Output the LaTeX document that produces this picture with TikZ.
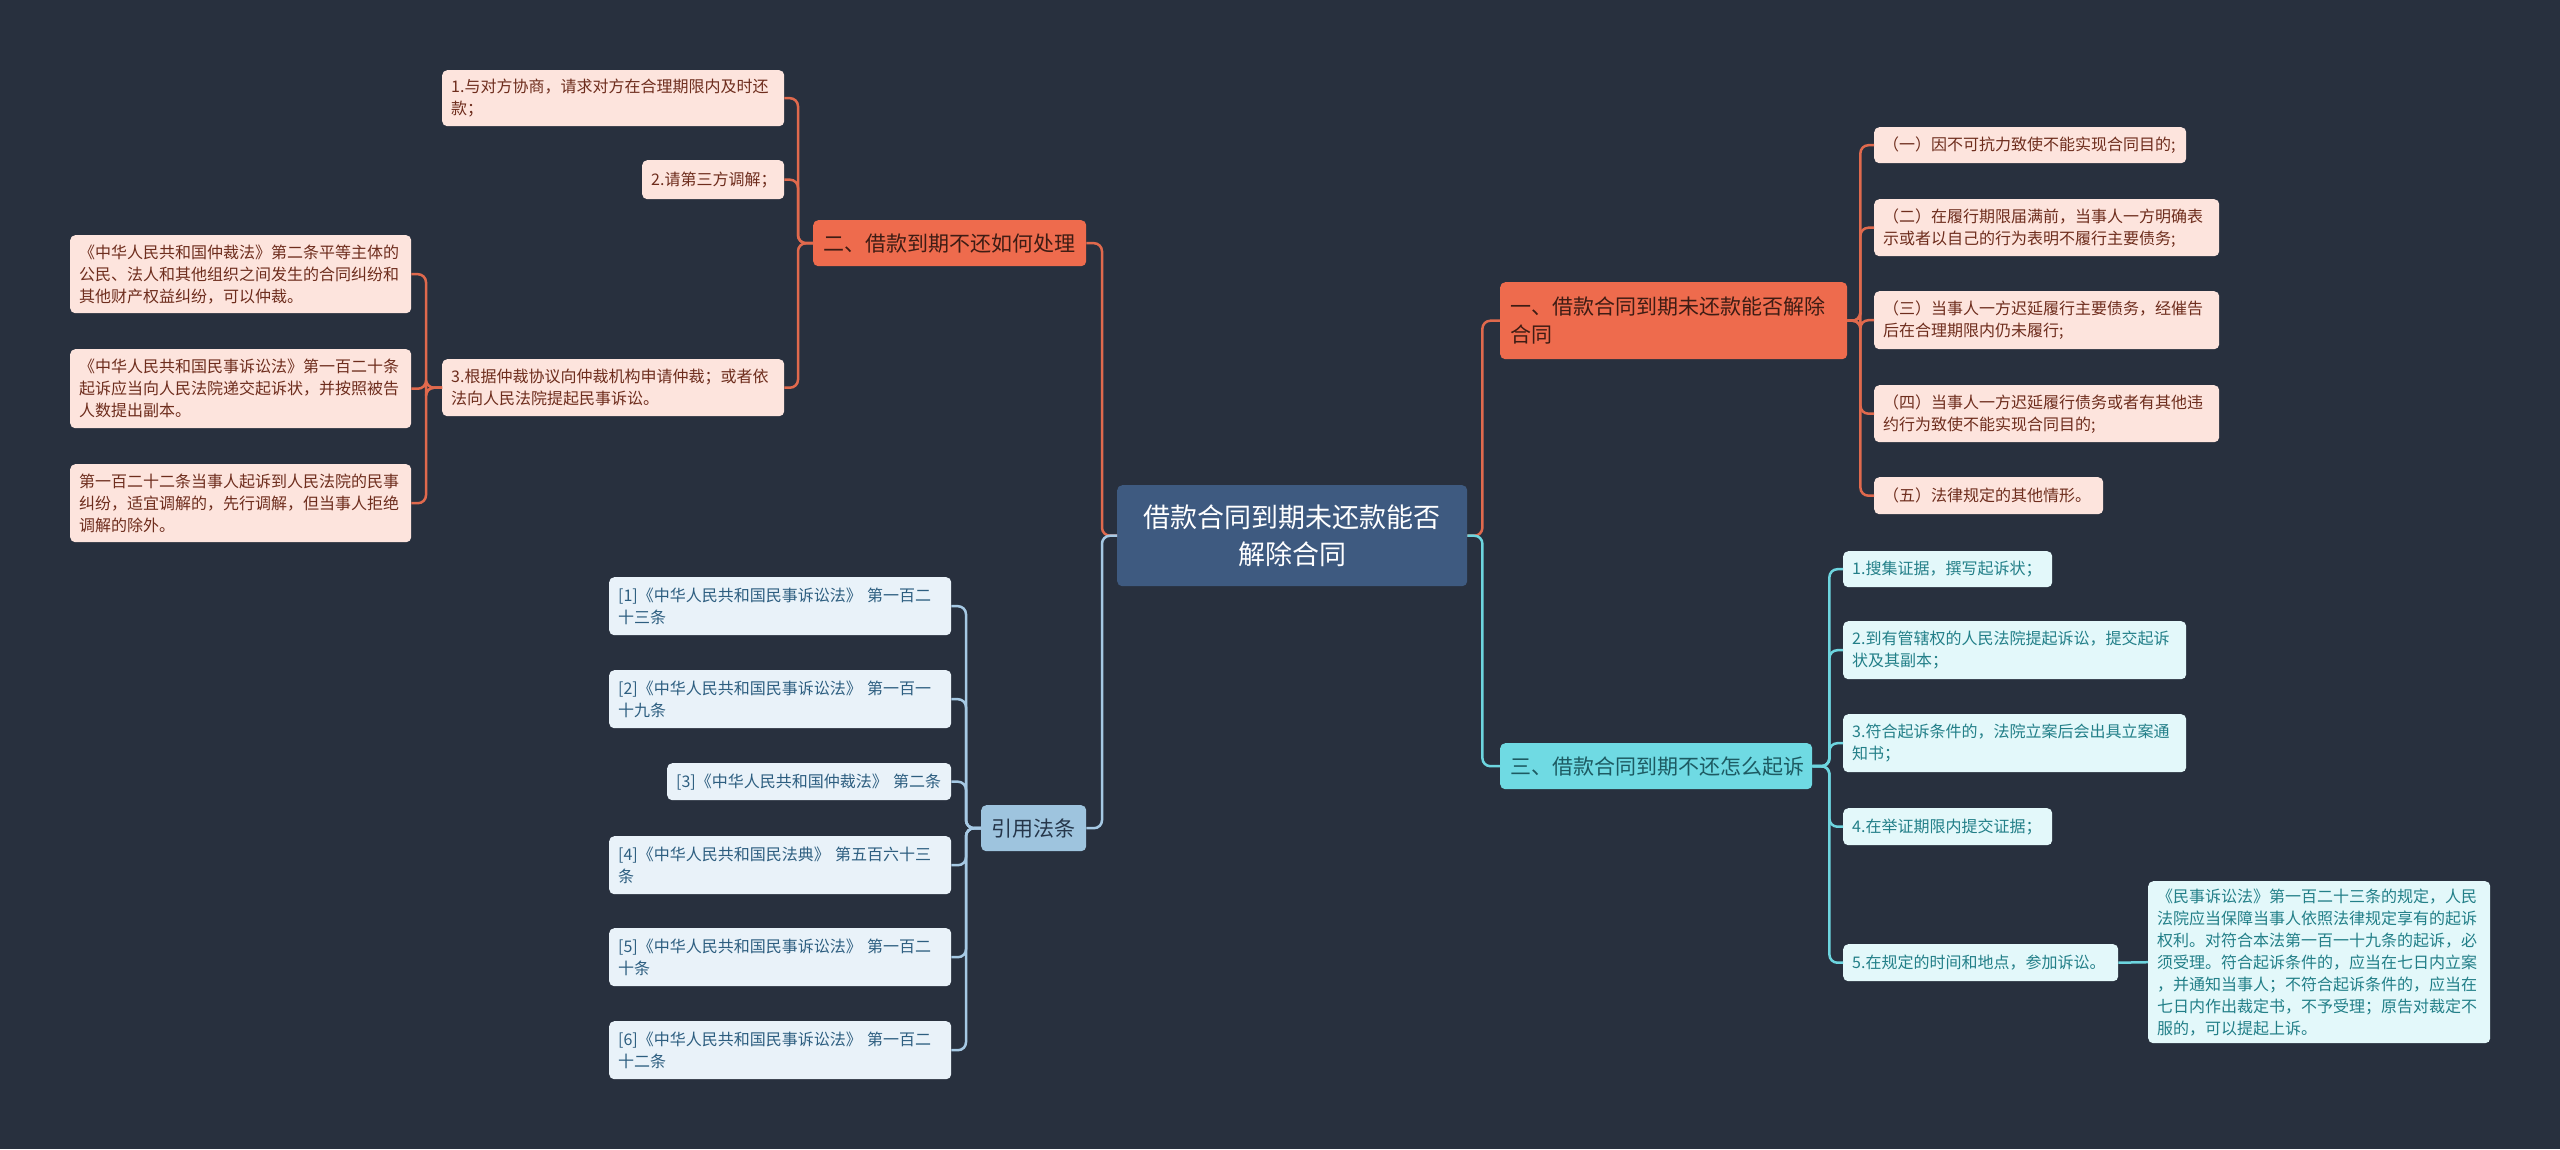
\documentclass[tikz,border=0pt]{standalone}
\usepackage{fontspec}
\setmainfont{Noto Sans CJK SC}
\definecolor{bg}{HTML}{28303E}
\definecolor{ctrfill}{HTML}{3E5A80}
\definecolor{orfill}{HTML}{EE6B4D}
\definecolor{ortext}{HTML}{3E1C14}
\definecolor{orline}{HTML}{E0694D}
\definecolor{orlight}{HTML}{FDE4DD}
\definecolor{orltext}{HTML}{6E2D1D}
\definecolor{cyfill}{HTML}{6FDAE3}
\definecolor{cytext}{HTML}{1D5A62}
\definecolor{cyline}{HTML}{6DD5DF}
\definecolor{cylight}{HTML}{E3F8FA}
\definecolor{cyltext}{HTML}{227F88}
\definecolor{blfill}{HTML}{9EC4DE}
\definecolor{bltext}{HTML}{25364A}
\definecolor{blline}{HTML}{A6C9E4}
\definecolor{bllight}{HTML}{E9F2F9}
\definecolor{blltext}{HTML}{2D5E80}
\begin{document}
\begin{tikzpicture}[x=1pt,y=-1pt,
  base/.style={rounded corners=5pt, inner xsep=9pt, inner ysep=0pt, anchor=north west, align=left},
  small/.style={base, font=\fontsize{16}{22}\selectfont},
  big/.style={base, inner xsep=10pt, font=\fontsize{21}{28}\selectfont},
  orc/.style={small, fill=orlight, text=orltext},
  cyc/.style={small, fill=cylight, text=cyltext},
  blc/.style={small, fill=bllight, text=blltext},
  orl/.style={draw=orline, line width=2.5pt, rounded corners=8pt},
  cyl/.style={draw=cyline, line width=2.5pt, rounded corners=8pt},
  bll/.style={draw=blline, line width=2.5pt, rounded corners=8pt}
]
\fill[bg] (0,0) rectangle (2560,1149);
\useasboundingbox (0,0) rectangle (2560,1149);

% center
\node[base, fill=ctrfill, text=white, align=center, text width=332pt, minimum height=101pt,
  font=\fontsize{27}{37}\selectfont] (ctr) at (1117,485) {借款合同到期未还款能否\\解除合同};

% main branches
\node[big, fill=orfill, text=ortext, text width=253pt, minimum height=46pt] (b2) at (813,220) {二、借款到期不还如何处理};
\node[big, fill=orfill, text=ortext, text width=327pt, minimum height=77pt] (b1) at (1500,282) {一、借款合同到期未还款能否解除\\合同};
\node[big, fill=cyfill, text=cytext, text width=292pt, minimum height=46pt] (b3) at (1500,743) {三、借款合同到期不还怎么起诉};
\node[big, fill=blfill, text=bltext, text width=85pt, minimum height=46pt] (law) at (981,805) {引用法条};

% branch two children
\node[orc, text width=324pt, minimum height=56pt] (c1) at (442,70) {1.与对方协商，请求对方在合理期限内及时还\\款；};
\node[orc, text width=124pt, minimum height=39pt] (c2) at (642,160) {2.请第三方调解；};
\node[orc, text width=324pt, minimum height=57pt] (c3) at (442,359) {3.根据仲裁协议向仲裁机构申请仲裁；或者依\\法向人民法院提起民事诉讼。};

\node[orc, text width=323pt, minimum height=78pt] (d1) at (70,235) {《中华人民共和国仲裁法》第二条平等主体的\\公民、法人和其他组织之间发生的合同纠纷和\\其他财产权益纠纷，可以仲裁。};
\node[orc, text width=323pt, minimum height=79pt] (d2) at (70,349) {《中华人民共和国民事诉讼法》第一百二十条\\起诉应当向人民法院递交起诉状，并按照被告\\人数提出副本。};
\node[orc, text width=323pt, minimum height=78pt] (d3) at (70,464) {第一百二十二条当事人起诉到人民法院的民事\\纠纷，适宜调解的，先行调解，但当事人拒绝\\调解的除外。};

% branch one children
\node[orc, text width=294pt, minimum height=36pt] (e1) at (1874,127) {（一）因不可抗力致使不能实现合同目的;};
\node[orc, text width=327pt, minimum height=57pt] (e2) at (1874,199) {（二）在履行期限届满前，当事人一方明确表\\示或者以自己的行为表明不履行主要债务;};
\node[orc, text width=327pt, minimum height=58pt] (e3) at (1874,291) {（三）当事人一方迟延履行主要债务，经催告\\后在合理期限内仍未履行;};
\node[orc, text width=327pt, minimum height=57pt] (e4) at (1874,385) {（四）当事人一方迟延履行债务或者有其他违\\约行为致使不能实现合同目的;};
\node[orc, text width=211pt, minimum height=37pt] (e5) at (1874,477) {（五）法律规定的其他情形。};

% branch three children
\node[cyc, text width=191pt, minimum height=36pt] (f1) at (1843,551) {1.搜集证据，撰写起诉状；};
\node[cyc, text width=325pt, minimum height=58pt] (f2) at (1843,621) {2.到有管辖权的人民法院提起诉讼，提交起诉\\状及其副本；};
\node[cyc, text width=325pt, minimum height=58pt] (f3) at (1843,714) {3.符合起诉条件的，法院立案后会出具立案通\\知书；};
\node[cyc, text width=191pt, minimum height=37pt] (f4) at (1843,808) {4.在举证期限内提交证据；};
\node[cyc, text width=257pt, minimum height=37pt] (f5) at (1843,944) {5.在规定的时间和地点，参加诉讼。};
\node[cyc, text width=324pt, minimum height=162pt] (g) at (2148,881) {《民事诉讼法》第一百二十三条的规定，人民\\法院应当保障当事人依照法律规定享有的起诉\\权利。对符合本法第一百一十九条的起诉，必\\须受理。符合起诉条件的，应当在七日内立案\\，并通知当事人；不符合起诉条件的，应当在\\七日内作出裁定书，不予受理；原告对裁定不\\服的，可以提起上诉。};

% law children
\node[blc, text width=324pt, minimum height=58pt] (h1) at (609,577) {[1]《中华人民共和国民事诉讼法》 第一百二\\十三条};
\node[blc, text width=324pt, minimum height=58pt] (h2) at (609,670) {[2]《中华人民共和国民事诉讼法》 第一百一\\十九条};
\node[blc, text width=266pt, minimum height=37pt] (h3) at (667,763) {[3]《中华人民共和国仲裁法》 第二条};
\node[blc, text width=324pt, minimum height=58pt] (h4) at (609,836) {[4]《中华人民共和国民法典》 第五百六十三\\条};
\node[blc, text width=324pt, minimum height=58pt] (h5) at (609,928) {[5]《中华人民共和国民事诉讼法》 第一百二\\十条};
\node[blc, text width=324pt, minimum height=58pt] (h6) at (609,1021) {[6]《中华人民共和国民事诉讼法》 第一百二\\十二条};

% connectors
\begin{scope}[on background layer/.style={}]
\draw[orl] (ctr.west) -- ++(-15,0) |- (b2.east);
\draw[bll] (ctr.west) -- ++(-15,0) |- (law.east);
\draw[orl] (ctr.east) -- ++(15,0) |- (b1.west);
\draw[cyl] (ctr.east) -- ++(15,0) |- (b3.west);
\foreach \n in {c1,c2,c3} \draw[orl] (b2.west) -- ++(-15,0) |- (\n.east);
\foreach \n in {d1,d2,d3} \draw[orl] (c3.west) -- ++(-16,0) |- (\n.east);
\foreach \n in {e1,e2,e3,e4,e5} \draw[orl] (b1.east) -- ++(13,0) |- (\n.west);
\foreach \n in {f1,f2,f3,f4,f5} \draw[cyl] (b3.east) -- ++(17,0) |- (\n.west);
\draw[cyl] (f5.east) -- (g.west);
\foreach \n in {h1,h2,h3,h4,h5,h6} \draw[bll] (law.west) -- ++(-15,0) |- (\n.east);
\end{scope}
\end{tikzpicture}
\end{document}
